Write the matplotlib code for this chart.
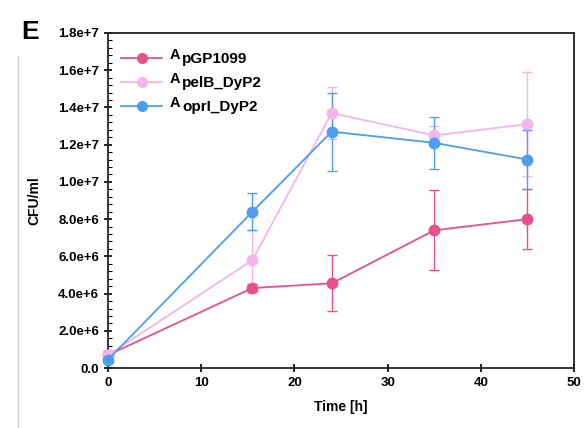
import matplotlib
matplotlib.use("Agg")
import matplotlib.pyplot as plt
from matplotlib.ticker import MultipleLocator
from matplotlib.lines import Line2D

plt.rcParams['font.family'] = ['Liberation Sans', 'DejaVu Sans']

time_h = [0, 15.5, 24, 35, 45]
labels = ['pGP1099', 'pelB_DyP2', 'oprI_DyP2']
pgp1099 = [0.7e6, 4.3e6, 4.55e6, 7.4e6, 8.0e6]
pgp1099_err = [0.2e6, 0.2e6, 1.5e6, 2.15e6, 1.6e6]
pelb = [0.7e6, 5.8e6, 13.7e6, 12.5e6, 13.1e6]
pelb_err = [0.2e6, 1.6e6, 1.4e6, 0.5e6, 2.8e6]
opri = [0.45e6, 8.4e6, 12.7e6, 12.1e6, 11.2e6]
opri_err = [0.2e6, 1.0e6, 2.1e6, 1.4e6, 1.6e6]
colors = ['#e8508c', '#f5b5ea', '#4d9ef0']
y_ticks = [0, 2e6, 4e6, 6e6, 8e6, 1.0e7, 1.2e7, 1.4e7, 1.6e7, 1.8e7]
y_ticklabels = ['0.0', '2.0e+6', '4.0e+6', '6.0e+6', '8.0e+6', '1.0e+7',
                '1.2e+7', '1.4e+7', '1.6e+7', '1.8e+7']

fig = plt.figure(figsize=(5.85, 4.28), dpi=100)
ax = fig.add_axes([0.1846, 0.140, 0.7966, 0.783])

handles = []
for vals, errs, c, lab in zip([pgp1099, pelb, opri], [pgp1099_err, pelb_err, opri_err], colors, labels):
    ax.errorbar(time_h, vals, yerr=errs, color=c, marker='o', markersize=7.5,
                linewidth=1.3, elinewidth=1.0, capsize=3.5, capthick=1.0,
                ecolor=c, clip_on=False, zorder=3)
    handles.append(Line2D([], [], color=c, marker='o', markersize=7, linewidth=1.3,
                          label=lab))

ax.set_xlim(0, 50)
ax.set_ylim(0, 1.8e7)
ax.set_xticks([0, 10, 20, 30, 40, 50])
ax.set_yticks(y_ticks)
ax.set_yticklabels(y_ticklabels)
ax.yaxis.set_minor_locator(MultipleLocator(0.4e6))
ax.tick_params(axis='both', which='major', labelsize=9.5, width=1.2, length=5)
ax.tick_params(axis='y', which='major', direction='inout', length=6)
ax.tick_params(axis='x', which='major', direction='inout', length=6)
ax.tick_params(axis='y', which='minor', direction='in', length=3, width=0.8)
for lbl in ax.get_xticklabels() + ax.get_yticklabels():
    lbl.set_fontweight('bold')
for s in ax.spines.values():
    s.set_linewidth(1.3)
    s.set_color('#222222')

ax.set_xlabel('Time [h]', fontsize=10, fontweight='bold', labelpad=8)
ax.set_ylabel('CFU/ml', fontsize=10, fontweight='bold', labelpad=12)

leg = ax.legend(handles=handles, loc='upper left', frameon=False,
                prop={'size': 11, 'weight': 'bold'}, handlelength=2.7,
                handletextpad=1.3, borderaxespad=0.85, labelspacing=0.65,
                bbox_to_anchor=(-0.013, 1.0))
leg.set_zorder(5)
for t in leg.get_texts():
    ax.annotate('A', xy=(0, 1), xycoords=t, xytext=(-1, 3), textcoords='offset points',
                ha='right', va='top', fontsize=10.5, fontweight='bold', zorder=20,
                annotation_clip=False)

fig.text(0.036, 0.925, 'E', fontsize=19, fontweight='bold', va='center')
fig.add_artist(Line2D([0.031, 0.031], [0.0, 0.87], transform=fig.transFigure,
                      color='#cccccc', linewidth=1.0))

fig.savefig('out.png', dpi=100)
